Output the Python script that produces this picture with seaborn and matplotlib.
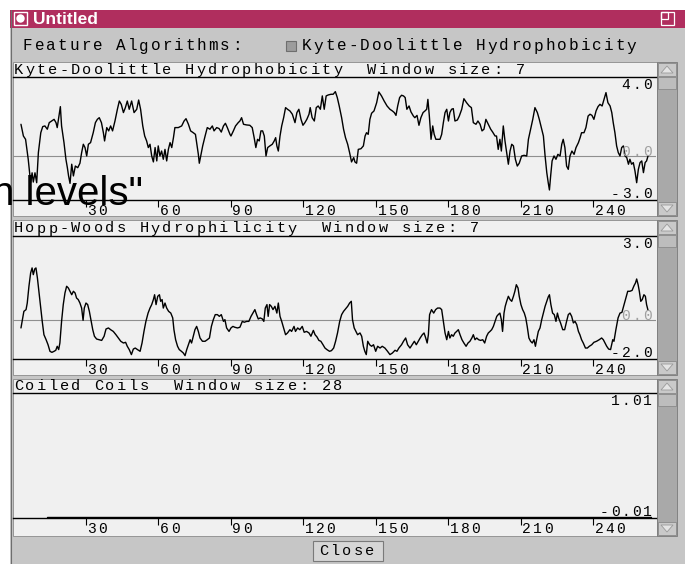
import matplotlib
matplotlib.use("Agg")
import matplotlib.pyplot as plt
import matplotlib.transforms as mtransforms
from matplotlib.patches import Rectangle, Polygon, Circle
import seaborn as sns

# -----------------------------------
# Data (residue position, window average)
# -----------------------------------
kd_pos = [
    3.1, 4.1, 5.0, 6.1, 7.1, 7.7, 8.2, 8.9, 9.6, 10.3,
    11.3, 12.1, 13.0, 14.0, 14.8, 15.8, 16.8, 17.6, 18.1, 18.8,
    19.4, 19.9, 20.9, 21.7, 22.3, 22.8, 23.4, 24.1, 24.8, 25.6,
    26.6, 27.5, 28.2, 28.9, 29.6, 30.3, 31.0, 31.9, 33.0, 33.9,
    34.7, 35.5, 36.4, 37.2, 37.7, 38.6, 39.4, 40.2, 41.0, 42.0,
    43.0, 43.8, 44.6, 45.5, 46.3, 47.1, 47.9, 48.9, 49.9, 51.0,
    51.8, 52.6, 53.5, 54.3, 55.1, 55.8, 56.5, 57.2, 57.9, 58.6,
    59.3, 59.9, 60.6, 61.3, 62.0, 62.7, 63.4, 64.1, 64.8, 65.5,
    66.2, 66.8, 68.2, 69.6, 70.6, 71.4, 72.4, 73.3, 74.4, 75.3,
    75.8, 76.5, 76.9, 77.5, 78.3, 79.3, 80.2, 81.3, 82.3, 83.0,
    84.1, 85.1, 86.0, 86.9, 87.7, 88.5, 89.6,
    90.0, 91.0, 91.9, 93.0, 93.7, 94.4, 95.2, 96.5, 97.8, 98.8,
    99.6, 100.3, 101.0, 101.7, 102.4, 103.1, 103.8, 104.5, 105.2, 106.1,
    107.1, 107.9, 108.5, 109.0, 109.6, 110.3, 111.0, 111.8, 112.6, 113.4,
    114.4, 115.4, 116.5, 117.3, 118.1, 119.0, 119.8, 120.6, 121.4, 122.3,
    122.8, 123.6, 124.5, 125.3, 126.1, 127.0, 127.8, 128.6, 129.4, 130.3,
    131.4, 132.3, 133.2, 134.0, 134.8, 135.8, 136.6, 137.4, 138.3, 139.1,
    139.9, 140.8, 141.3, 142.0, 142.7, 143.8, 144.8, 145.5, 146.1, 146.8,
    147.5, 148.2, 149.2, 150.3, 151.2, 152.3, 153.4, 154.6, 155.8, 156.8,
    157.6, 158.3, 159.0, 159.8, 160.6, 161.4, 162.1, 162.8, 163.7, 164.5,
    165.5, 166.1, 167.0, 167.8, 168.6, 169.5, 170.3, 171.0, 171.5, 172.1,
    172.8, 173.5, 174.1, 174.8, 175.8,
    176.5, 177.2, 177.9, 178.6, 179.3, 180.0, 180.6, 181.3, 182.0, 182.7,
    183.7, 184.5, 185.5, 186.4, 187.5, 188.6, 189.5, 190.3, 191.4, 192.2,
    193.1, 193.9, 194.7, 195.5, 196.5, 197.5, 198.3, 199.3, 199.9, 200.6,
    201.3, 201.9, 202.7, 203.4, 204.1, 204.8, 205.5, 206.2, 206.9, 207.7,
    208.5, 209.3, 210.3, 211.3, 212.4, 213.1, 214.0, 214.9, 215.8, 216.8,
    217.6, 218.6, 219.3, 220.0, 220.7, 221.3, 221.8, 222.3, 222.9, 223.7,
    224.5, 225.3, 226.2, 226.9, 227.5, 228.2, 228.9, 229.6, 230.3, 231.1,
    232.0, 232.8, 233.8, 234.5, 235.1, 236.1, 236.9, 237.8, 238.6, 239.4,
    240.2, 241.1, 241.9, 242.7, 243.6, 244.4, 245.2, 246.0, 246.9, 247.6,
    248.2, 248.9, 249.6, 250.3, 251.0, 251.7, 252.4, 253.1, 253.8, 254.5,
    255.1, 255.8, 256.5, 257.2, 257.9, 258.6, 259.3, 260.0, 260.7, 261.4,
    262.0, 262.6,
]
kd_val = [
    1.94, 1.23, 1.03, -0.18, -1.60, -1.00, -1.56, -1.00, -1.60, 0.22,
    1.43, 1.80, 1.84, 1.64, 2.04, 2.14, 2.24, 2.04, 1.74, 2.44,
    3.01, 1.84, 0.83, -0.18, -0.69, -1.19, -1.64, -0.48, -1.19, -0.59,
    -0.69, -0.42, 0.22, 0.73, 0.53, 0.02, 0.73, 0.83, 1.43, 2.04,
    2.24, 2.34, 2.04, 1.43, 0.93, 1.74, 1.54, 1.84, 1.54, 2.14,
    2.85, 3.35, 3.15, 2.65, 2.95, 3.35, 2.85, 3.35, 2.65, 2.85,
    3.41, 2.85, 1.84, 1.23, 0.93, 0.53, 0.73, 0.02, -0.34, 0.53,
    -0.28, 0.63, 0.02, 0.32, -0.18, 0.42, -0.28, 0.42, 0.83, 0.53,
    1.13, 1.74, 1.74, 1.84, 2.14, 2.28, 1.94, 1.54, 1.43, 1.33,
    0.83, 0.12, -0.42, 0.02, 0.63, 1.23, 1.74, 1.64, 1.84, 1.54,
    1.74, 1.68, 1.47, 1.84, 2.00, 1.74, 1.33,
    1.23, 1.54, 1.84, 2.04, 2.14, 2.34, 1.94, 1.90, 1.88, 1.74,
    1.13, 0.53, 1.03, 0.93, 1.54, 1.54, 1.23, 0.02, 0.53, 0.63,
    0.73, 0.93, 1.13, 0.63, 0.32, 1.23, 1.84, 2.34, 2.95, 2.85,
    2.75, 2.55, 2.04, 2.65, 2.85, 2.24, 1.88, 2.04, 2.24, 2.55,
    2.95, 2.34, 2.14, 2.95, 3.05, 2.85, 3.66, 2.85, 3.66, 3.72,
    3.76, 3.76, 3.92, 3.56, 3.05, 2.34, 1.64, 1.13, 0.73, 0.22,
    -0.34, -0.08, -0.34, -0.42, 0.42, 0.46, 0.63, 1.23, 1.43, 1.33,
    2.24, 2.61, 2.75, 3.25, 3.90, 3.66, 3.35, 3.05, 2.85, 2.75,
    2.65, 2.48, 3.05, 3.56, 3.70, 3.66, 3.56, 2.85, 3.05, 2.69,
    2.44, 2.34, 2.48, 1.88, 2.34, 2.65, 2.75, 2.85, 3.45, 2.44,
    1.03, 1.84, 1.33, 1.03, 1.03,
    1.03, 1.33, 2.04, 2.65, 2.85, 2.14, 2.65, 2.85, 2.89, 2.14,
    2.20, 2.44, 2.85, 3.49, 3.25, 3.05, 2.95, 2.04, 1.94, 2.14,
    1.94, 1.54, 1.64, 2.24, 1.94, 1.64, 1.47, 1.23, 1.23, 0.42,
    1.03, 0.32, 1.84, 0.93, 0.22, -0.48, 0.32, 0.73, 0.63, -0.18,
    -0.59, -0.42, 0.02, 0.06, 0.02, 1.03, 1.64, 2.24, 2.95, 2.65,
    2.24, 1.64, 1.23, 0.02, -0.99, -1.60, -2.04, -1.19, -0.28, 0.02,
    -0.18, 0.12, 0.02, 0.73, 1.03, 0.53, -0.59, -0.79, 0.02, 0.32,
    0.12, 0.53, 0.83, 1.13, 1.43, 1.43, 1.74, 2.44, 2.55, 2.48,
    2.24, 2.75, 3.01, 3.15, 3.05, 3.45, 3.86, 3.25, 3.05, 2.65,
    2.04, 1.43, 0.63, 0.22, 0.02, 0.53, 0.63, 0.02, -0.08, -0.48,
    -0.18, -0.48, -0.38, -0.89, -1.60, -0.79, -0.38, -0.28, -0.99, -0.38,
    -0.28, 0.02,
]

hw_pos = [
    3.1, 3.7, 4.3, 5.2, 5.7, 6.4, 7.1, 7.7, 8.2, 8.8,
    9.3, 9.9, 10.6, 11.2, 11.9, 12.6, 13.5, 14.3, 15.1, 15.9,
    16.8, 17.5, 18.1, 18.7, 19.2, 19.9, 20.6, 21.3, 22.0, 22.7,
    23.4, 24.1, 24.8, 25.5, 26.1, 26.8, 27.5, 28.2, 28.8, 29.3,
    30.0, 30.7, 31.4, 32.1, 32.8, 33.5, 34.4, 35.4, 36.5, 37.5,
    38.3, 39.3, 40.2, 41.3, 42.4, 43.4, 44.4, 45.5, 46.4, 47.1,
    47.9, 48.8, 49.6, 50.4, 51.3, 52.4, 53.2, 54.0, 54.8, 55.7,
    56.5, 57.2, 57.9, 58.4, 59.0, 59.7, 60.4, 60.9, 61.5, 62.0,
    62.7, 63.4, 64.2, 65.1, 65.9, 66.4, 67.1, 67.9, 68.6, 69.5,
    70.3, 71.0, 71.7, 72.4, 73.1, 73.7, 74.4, 75.1, 75.8, 76.5,
    77.2, 78.2, 79.3, 80.2, 81.1, 81.9, 82.7, 83.5, 84.4, 85.2,
    86.0, 86.9, 87.5,
    88.2, 89.2, 90.0, 90.8, 91.6, 92.7, 93.7, 94.7, 95.5, 96.5,
    97.4, 98.3, 99.1, 99.9, 100.6, 101.3, 102.1, 103.0, 103.6, 104.2,
    104.9, 105.4, 106.0, 106.7, 107.4, 108.2, 109.0, 109.6, 110.3, 111.0,
    111.6, 112.6, 113.4, 114.4, 115.1, 116.1, 116.7, 117.6, 118.5, 119.5,
    120.3, 121.3, 122.3, 123.1, 124.1, 124.8, 125.6, 126.4, 127.2, 128.1,
    128.9, 129.7, 130.8, 131.6, 132.5, 133.3, 134.1, 135.0, 135.8, 136.6,
    137.4, 138.3, 139.1, 139.8, 140.3, 141.0, 141.7, 142.4, 143.4, 144.1,
    144.8, 145.4, 146.0, 146.6, 147.4, 148.2, 149.0, 149.9, 150.7, 151.7,
    152.6, 153.7, 154.8, 155.8, 156.8, 157.9, 158.7, 159.5, 160.6, 161.4,
    162.3, 163.1, 164.1, 165.0, 165.9, 166.7, 167.5, 168.3, 169.2, 169.9,
    170.6, 171.2, 171.7, 172.2, 173.0, 173.9, 174.7, 175.5,
    176.5, 177.2, 177.9, 178.6, 179.3, 180.0, 180.6, 181.3, 182.0, 182.7,
    183.4, 184.1, 184.8, 185.6, 186.4, 187.3, 188.1, 188.9, 189.7, 190.3,
    191.0, 191.7, 192.5, 193.3, 194.2, 195.0, 195.8, 196.5, 197.2, 197.9,
    198.6, 199.3, 200.0, 200.6, 201.3, 201.9, 202.4, 203.0, 203.5, 204.1,
    204.8, 205.5, 206.2, 206.9, 207.5, 208.1, 208.8, 209.3, 210.0, 210.7,
    211.4, 212.0, 212.6, 213.3, 214.0, 214.7, 215.4, 216.0, 216.5, 217.2,
    217.9, 218.6, 219.3, 220.0, 220.7, 221.3, 221.8, 222.4, 223.1, 223.8,
    224.5, 225.1, 225.6, 226.4, 227.3, 228.1, 228.9, 229.6, 230.3, 231.0,
    231.7, 232.4, 233.1, 233.8, 234.4, 235.1, 235.8, 236.7, 237.5, 238.3,
    239.3, 240.2, 241.3, 242.4, 243.4, 244.1, 244.8, 245.5, 246.3, 247.1,
    248.0, 248.5, 249.3, 250.2, 251.0, 251.8, 252.7, 253.5, 254.2, 255.1,
    256.0, 256.8, 257.4, 257.9, 258.5, 259.0, 259.6, 260.2, 260.9, 261.5,
    262.0, 262.6,
]
hw_val = [
    -0.46, 0.02, 0.50, 0.60, 0.98, 1.95, 2.72, 3.01, 2.62, 2.95,
    3.01, 2.43, 1.56, 0.79, -0.08, -0.85, -1.14, -1.43, -1.81, -1.87,
    -1.81, -1.75, -1.52, -1.71, -1.33, -0.08, 0.89, 1.56, 1.95, 1.85,
    1.66, 1.46, 1.66, 1.56, 1.27, 1.18, 0.98, 0.69, -0.02, 0.69,
    0.98, 0.89, 0.50, -0.02, -0.56, -0.94, -1.10, -1.14, -1.18, -0.94,
    -0.52, -0.46, -0.56, -0.66, -0.85, -1.04, -1.23, -1.33, -1.29, -1.52,
    -1.71, -2.00, -1.68, -1.62, -1.71, -1.81, -1.33, -0.66, -0.08, 0.40,
    0.69, 0.89, 1.18, 1.46, 0.89, 1.37, 1.46, 1.08, 1.18, 0.69,
    0.98, 0.69, 0.50, 0.40, 0.12, -0.56, -1.14, -1.52, -1.71, -1.81,
    -1.91, -2.06, -1.71, -1.43, -1.14, -1.33, -0.94, -0.56, -0.37, -0.66,
    -1.04, -1.23, -1.23, -1.14, -1.04, -0.37, 0.02, 0.31, 0.31, 0.21,
    0.31, -0.08, 0.02,
    -0.46, -0.66, -0.46, -0.37, -0.42, -0.46, -0.42, -0.08, -0.13, -0.08,
    -0.08, 0.21, 0.40, 0.60, 0.31, 0.06, 0.12, 0.06, -0.08, 0.69,
    0.89, 0.21, 0.89, 0.79, 0.60, 0.79, 0.40, 0.98, 0.21, -0.08,
    -0.37, -0.85, -0.75, -0.56, -0.66, -0.37, -0.66, -0.46, -0.56, -0.37,
    -0.71, -0.66, -0.75, -0.94, -0.60, -0.85, -0.98, -1.18, -1.23, -1.43,
    -1.62, -1.71, -1.81, -1.77, -1.62, -1.23, -0.75, -0.08, 0.31, 0.50,
    0.64, 0.79, 0.98, 1.08, 0.02, -0.46, -0.66, -0.85, -0.75, -0.94,
    -1.52, -1.81, -2.00, -1.23, -1.43, -1.52, -1.43, -1.81, -1.52, -1.62,
    -1.52, -1.62, -1.81, -2.00, -1.91, -1.75, -1.81, -1.62, -1.43, -1.23,
    -1.04, -1.43, -1.62, -1.43, -1.23, -1.43, -1.23, -1.04, -0.85, -0.75,
    -1.04, -1.33, -0.85, 0.31, 0.60, 0.40, 0.60, 0.69,
    0.69, 0.60, -0.08, -0.75, -1.14, -0.66, -1.04, -0.85, -0.94, -0.75,
    -0.66, -0.56, -0.85, -1.14, -1.33, -1.52, -1.33, -1.23, -1.04, -0.85,
    -1.14, -1.04, -1.14, -1.18, -1.14, -1.33, -0.94, -0.75, -0.66, -0.56,
    -0.37, -0.08, 0.21, 0.31, 0.40, 0.02, -0.66, 0.40, 0.79, 1.08,
    1.37, 1.18, 1.08, 1.37, 1.66, 2.04, 1.85, 1.37, 0.89, 0.60,
    0.40, 0.12, -0.37, -1.04, -1.23, -1.33, -1.14, -1.52, -1.14, -0.66,
    -0.46, 0.02, 0.40, 0.79, 1.08, 1.33, 1.46, 0.89, 0.40, 0.31,
    -0.08, 0.40, 0.12, -0.17, -0.56, -0.56, -0.08, 0.31, 0.40, 0.21,
    -0.17, -0.08, -0.27, -0.66, -0.85, -1.14, -1.33, -1.62, -1.62, -1.52,
    -1.43, -1.29, -1.23, -1.14, -1.04, -1.14, -1.33, -1.52, -1.68, -1.71,
    -1.14, -1.23, -0.56, 0.12, 0.40, 0.44, 0.89, 1.27, 1.66, 1.66,
    1.71, 1.98, 2.14, 2.37, 2.04, 1.66, 1.08, 1.18, 1.46, 1.37,
    0.89, 0.56,
]

# coiled coils: flat at zero over the whole window range
cc_pos = [14, 264]
cc_val = [0.0, 0.0]

ticks = [30, 60, 90, 120, 150, 180, 210, 240]
x_range = (-0.2, 265.9)

# -----------------------------------
# Figure set-up (everything placed in screen pixels)
# -----------------------------------
W, H = 685, 564
sns.set_style("white")
MONO = ['Liberation Mono', 'DejaVu Sans Mono']
plt.rcParams['font.family'] = MONO

fig = plt.figure(figsize=(W / 100, H / 100), dpi=100)
fig.patch.set_facecolor('white')
pix = mtransforms.Affine2D().scale(1, -1).translate(0, H)


def box(x0, y0, x1, y1, **kw):
    kw.setdefault('zorder', -2)
    fig.add_artist(Rectangle((x0, y0), x1 - x0, y1 - y0, transform=pix, **kw))


def mono(x, y, s, dx=11.4, trans=pix, size=11, color='black'):
    # X11 style courier: fixed, wide character cells
    for i, ch in enumerate(s):
        if ch == ' ':
            continue
        t = mtransforms.offset_copy(trans, fig=fig, x=i * dx, y=0, units='dots')
        fig.text(x, y, ch, transform=t, ha='left', va='center',
                 fontsize=size, color=color, family=MONO)


def scrollbar(top, bottom):
    box(657, top, 677, bottom, fc='#a9a9a9', ec='#7a7a7a', lw=0.6)
    box(658, top + 1, 676, top + 14, fc='#c9c9c9', ec='#8a8a8a', lw=0.6, zorder=-1)
    box(658, top + 15, 676, top + 27, fc='#bdbdbd', ec='#8a8a8a', lw=0.6, zorder=-1)
    box(658, bottom - 14, 676, bottom - 1, fc='#c9c9c9', ec='#8a8a8a', lw=0.6, zorder=-1)
    fig.add_artist(Polygon([[661, top + 11], [673, top + 11], [667, top + 4]],
                           transform=pix, fc='#e4e4e4', ec='#9a9a9a', lw=0.6))
    fig.add_artist(Polygon([[661, bottom - 11], [673, bottom - 11], [667, bottom - 4]],
                           transform=pix, fc='#e4e4e4', ec='#9a9a9a', lw=0.6))


def panel(top, hdr, axis_y, bottom, title, x, y, ylim, labels):
    box(13, top, 657, bottom, fc='#f0f0f0', ec='#8a8a8a', lw=0.6)
    scrollbar(top, bottom)
    ax = fig.add_axes([13 / W, 1 - axis_y / H, (656 - 13) / W, (axis_y - hdr) / H])
    ax.set_facecolor('none')
    if labels[1] is not None:
        ax.axhline(0, color='#8f8f8f', lw=0.8, zorder=1)
    sns.lineplot(x=x, y=y, ax=ax, color='black', linewidth=1.0,
                 estimator=None, sort=False, zorder=3)
    ax.set_xlim(*x_range)
    ax.set_ylim(*ylim)
    ax.set_xlabel('')
    ax.set_ylabel('')
    for side in ['left', 'right']:
        ax.spines[side].set_visible(False)
    for side in ['top', 'bottom']:
        ax.spines[side].set_visible(True)
        ax.spines[side].set_color('black')
        ax.spines[side].set_linewidth(1.0)
    ax.set_yticks([])
    ax.set_xticks(ticks)
    ax.tick_params(axis='x', direction='out', length=5, width=0.8,
                   color='black', labelbottom=False, bottom=True)
    # tick labels sit just right of each tick mark
    lab_tr = mtransforms.blended_transform_factory(ax.transData, pix)
    for t in ticks:
        mono(t, axis_y + 11, str(t), dx=10.7, size=10.5,
             trans=mtransforms.offset_copy(lab_tr, fig=fig, x=1.5, y=0, units='dots'))
    mono(14, hdr - 7, title)
    # range labels at the right edge
    top_lab, mid_lab, bot_lab = labels
    mono(654 - 10.8 * len(top_lab), hdr + 8, top_lab, dx=10.8, size=10.5)
    if mid_lab is not None:
        zero_y = ax.transData.transform((0, 0))[1]
        mono(654 - 10.8 * len(mid_lab), H - zero_y - 4, mid_lab, dx=10.8, size=10.5,
             color='#a0a0a0')
    mono(654 - 10.8 * len(bot_lab), axis_y - 6, bot_lab, dx=10.8, size=10.5)
    return ax


# -----------------------------------
# Window chrome
# -----------------------------------
box(10, 10, 685, 564, fc='#c6c6c6', ec='none', zorder=-3)
fig.add_artist(plt.Line2D([10.5, 10.5], [10, 564], transform=pix, color='#6e6e6e', lw=0.8))
box(10, 10, 685, 28, fc='#b02e5e', ec='none')
box(14, 12, 27, 25, fc='none', ec='white', lw=1.0, zorder=2)
fig.add_artist(Circle((20.5, 18.5), 4.2, transform=pix, fc='white', ec='none', zorder=3))
box(661, 12, 674, 25, fc='none', ec='white', lw=0.9, zorder=2)
box(661, 12, 668, 19, fc='none', ec='white', lw=0.9, zorder=2)
fig.text(33, 19, 'Untitled', transform=pix, ha='left', va='center', color='white',
         fontsize=12.5, fontweight='bold', family=['Liberation Sans', 'DejaVu Sans'])

mono(23, 46, 'Feature Algorithms:', dx=11.6, size=11.5)
box(286, 41, 296, 51, fc='#9c9c9c', ec='#6e6e6e', lw=0.8, zorder=2)
mono(302, 46, 'Kyte-Doolittle Hydrophobicity', dx=11.6, size=11.5)

# -----------------------------------
# Plot panels
# -----------------------------------
panel(62, 77, 200, 216, 'Kyte-Doolittle Hydrophobicity  Window size: 7',
      kd_pos, kd_val, (-2.648, 4.806), ('4.0', '0.0', '-3.0'))
panel(220, 235.5, 359.3, 375, 'Hopp-Woods Hydrophilicity  Window size: 7',
      hw_pos, hw_val, (-2.272, 4.884), ('3.0', '0.0', '-2.0'))
panel(379, 393, 518, 536, 'Coiled Coils  Window size: 28',
      cc_pos, cc_val, (-0.01, 1.01), ('1.01', None, '-0.01'))

# Close button
box(313, 541, 383, 561, fc='#d6d6d6', ec='#7a7a7a', lw=0.8, zorder=1)
mono(319, 551, 'Close')

# stray overlay text captured in the screenshot
fig.text(-8, 205, 'n levels"', transform=pix, ha='left', va='baseline', color='black',
         fontsize=29, family=['Liberation Sans Narrow', 'Liberation Sans', 'DejaVu Sans'],
         zorder=10)

fig.savefig('out.png', dpi=100)
